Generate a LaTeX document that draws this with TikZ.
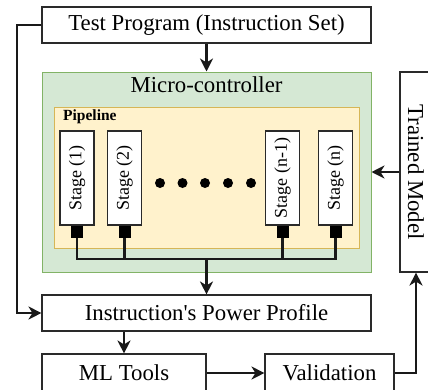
\documentclass[tikz,border=0pt]{standalone}
\usepackage{fontspec}
\setmainfont{Liberation Serif}
\usetikzlibrary{arrows.meta}
\definecolor{mcfill}{HTML}{D5E8D4}
\definecolor{mcdraw}{HTML}{82B366}
\definecolor{plfill}{HTML}{FFF2CC}
\definecolor{pldraw}{HTML}{D6B656}
\definecolor{boxdraw}{HTML}{2A2A2A}
\tikzset{
  box/.style={draw=boxdraw, line width=1.1pt, fill=white, rectangle, inner sep=0pt, font=\fontsize{22.8}{24}\selectfont},
  stagebox/.style={draw=boxdraw, line width=1.1pt, fill=white, rectangle, inner sep=0pt, minimum width=34pt, minimum height=94pt, font=\fontsize{18}{19}\selectfont},
  pin/.style={fill=black, draw=none, rectangle, minimum width=12pt, minimum height=12pt, inner sep=0pt},
  dotnode/.style={fill=black, draw=none, circle, minimum size=10pt, inner sep=0pt},
  conn/.style={line width=2.2pt, draw=black!90},
  arr/.style={conn, -{Stealth[length=13pt, width=13pt, inset=4pt]}},
}
\begin{document}
\begin{tikzpicture}[x=1pt, y=-1pt]
\useasboundingbox (0,0) rectangle (428,389);
\begin{scope}
\clip (0,0) rectangle (428,389);
% main boxes
\node[box, minimum width=329pt, minimum height=36pt] (tp) at (206.5,25) {Test Program (Instruction Set)};
\node[draw=mcdraw, fill=mcfill, line width=1pt, rectangle, minimum width=329pt, minimum height=200pt, inner sep=0pt] (mc) at (206.5,172) {};
\node[font=\fontsize{22.8}{24}\selectfont, inner sep=0pt] (mct) at (206.5,85) {Micro-controller};
\node[draw=pldraw, fill=plfill, line width=1pt, rectangle, minimum width=305pt, minimum height=141pt, inner sep=0pt] (pl) at (206.5,177.5) {};
\node[font=\bfseries\fontsize{15.5}{17}\selectfont, anchor=west, inner sep=0pt] (plt) at (63,117) {Pipeline};
% stages
\node[stagebox] (s1) at (77,178) {\rotatebox{90}{Stage (1)}};
\node[stagebox] (s2) at (124.5,178) {\rotatebox{90}{Stage (2)}};
\node[stagebox] (s3) at (282.5,178) {\rotatebox{90}{Stage (n-1)}};
\node[stagebox] (s4) at (335.5,178) {\rotatebox{90}{Stage (n)}};
\node[pin, anchor=north] (q1) at (s1.south) {};
\node[pin, anchor=north] (q2) at (s2.south) {};
\node[pin, anchor=north] (q3) at (s3.south) {};
\node[pin, anchor=north] (q4) at (s4.south) {};
\node[dotnode] (d1) at (160,183) {};
\node[dotnode] (d2) at (182.5,183) {};
\node[dotnode] (d3) at (205,183) {};
\node[dotnode] (d4) at (228,183) {};
\node[dotnode] (d5) at (251,183) {};
% bus
\coordinate (b1) at (77,259);
\coordinate (b2) at (124.5,259);
\coordinate (b3) at (282.5,259);
\coordinate (b4) at (335.5,259);
\coordinate (bc) at (206.5,259);
\draw[conn] (q1.south) -- (b1) -- (b4) -- (q4.south);
\draw[conn] (q2.south) -- (b2);
\draw[conn] (q3.south) -- (b3);
% lower boxes
\node[box, minimum width=329pt, minimum height=36pt] (pp) at (206.5,313) {Instruction\textquotesingle s Power Profile};
\node[box, minimum width=164pt, minimum height=38pt] (ml) at (124,373) {ML Tools};
\node[box, minimum width=129pt, minimum height=38pt] (va) at (329.5,373) {Validation};
\node[box, minimum width=32pt, minimum height=200pt] (tm) at (416,172) {\rotatebox{-90}{Trained Model}};
% connectors
\draw[arr] (tp.south) -- (mc.north);
\draw[arr] (bc) -- (pp.north);
\coordinate (lf1) at (17,25);
\coordinate (lf2) at (17,313);
\draw[arr] (tp.west) -- (lf1) -- (lf2) -- (pp.west);
\draw[arr] (tm.west) -- (mc.east);
\draw[arr] (pp.south -| ml.north) -- (ml.north);
\draw[arr] (ml.east) -- (va.west);
\coordinate (vr) at (416,373);
\draw[arr] (va.east) -- (vr) -- (tm.south);
\end{scope}
\end{tikzpicture}
\end{document}
